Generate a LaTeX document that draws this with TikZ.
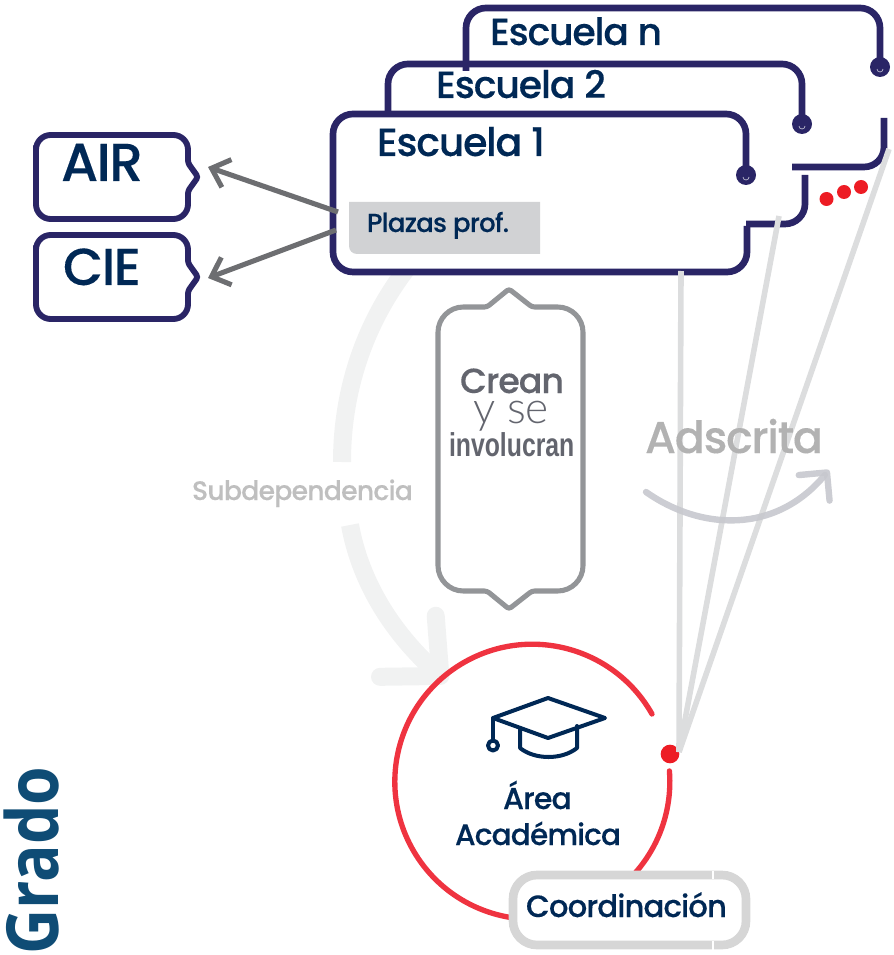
\documentclass[tikz,border=0pt]{standalone}
\usepackage{fontspec}
\usepackage{graphicx}
\usetikzlibrary{arrows.meta}
\setmainfont{Poppins}
\newfontfamily\medfont[FakeBold=0.2,LetterSpace=-3]{Poppins Medium}
\newfontfamily\lightfont{Lato Light}
\newfontfamily\condfont[FakeStretch=0.75,UprightFont=* Bold]{Liberation Sans}
\newfontfamily\gradofont[UprightFont=* Bold]{Open Sans}
\definecolor{navy}{HTML}{002855}
\definecolor{boxline}{HTML}{2A2566}
\definecolor{graytxt}{HTML}{63656E}
\definecolor{arrowgray}{HTML}{6D6E71}
\definecolor{creanline}{HTML}{939598}
\definecolor{plazagray}{HTML}{D1D2D4}
\definecolor{linegray}{HTML}{DCDDDE}
\definecolor{ascarrow}{HTML}{C7C8CE}
\definecolor{areared}{HTML}{EF3340}
\definecolor{dotred}{HTML}{ED1C24}
\definecolor{arcgray}{HTML}{F1F2F2}
\definecolor{gradoblue}{HTML}{0F4C75}
\newcommand{\fitw}[2]{\resizebox{#1}{!}{#2}}
\tikzset{
  x=0.75pt,y=-0.75pt,
  lbl/.style={anchor=base west,inner sep=0pt,outer sep=0pt,text=navy},
  schoolline/.style={draw=boxline,line width=5pt,rounded corners=15pt},
  schooldot/.style={circle,fill=boxline,minimum size=15pt,inner sep=0pt},
  sidebox/.style={draw=boxline,line width=4.4pt,fill=white},
  sidearrow/.style={draw=arrowgray,line width=3.8pt,-{Straight Barb[length=12pt,width=22pt]}},
  spoke/.style={draw=linegray,line width=4.2pt},
  reddot/.style={circle,fill=dotred,inner sep=0pt,minimum size=14pt},
  smalldot/.style={circle,fill=dotred,inner sep=0pt,minimum size=10.5pt},
}
\begin{document}
\begin{tikzpicture}
\useasboundingbox (0,0) rectangle (893,955);
% subdependence arc
\coordinate (sa) at (412,262);
\coordinate (sb) at (342,462);
\coordinate (sc) at (350,525);
\coordinate (sd) at (447,682);
\draw[draw=arcgray,line width=13.5pt] (sa) .. controls (365,320) and (342,390) .. (sb);
\draw[draw=arcgray,line width=13.5pt,-{Straight Barb[round,length=33pt,width=62pt]}] (sc) .. controls (360,580) and (390,630) .. (sd);
\node[lbl,text=black!25] (sub) at (192,500) {\fitw{165.7pt}{\medfont Subdependencia}};
% Escuela n
\coordinate (n1) at (466,71);
\coordinate (n2) at (880,67);
\draw[schoolline] (n1) -- (466,8) -- (880,8) -- (n2);
\draw[schoolline] (884,118) -- (884,167) -- (792,167);
\node[schooldot] (dn) at (880,67) {};
\draw[white!70!boxline,line width=.5pt] (877,69) arc[start angle=180,end angle=0,radius=3];
\node[lbl] (en) at (490,45) {\fitw{129pt}{\medfont Escuela n}};
% Escuela 2
\coordinate (t1) at (388,121);
\coordinate (t2) at (802,124);
\draw[schoolline] (t1) -- (388,64) -- (802,64) -- (t2);
\draw[schoolline] (805,175) -- (805,224) -- (736,224);
\node[schooldot] (dt) at (802,124) {};
\draw[white!70!boxline,line width=.5pt] (799,126) arc[start angle=180,end angle=0,radius=3];
\node[lbl] (et) at (436,98) {\fitw{127.5pt}{\medfont Escuela 2}};
% Escuela 1
\fill[white] (333,114) rectangle (746,272);
\coordinate (o1) at (746,175);
\coordinate (o2) at (747,226);
\draw[schoolline] (o1) -- (746,114) -- (333,114) -- (333,272) -- (747,272) -- (o2);
\node[schooldot] (do) at (746,175) {};
\draw[white!70!boxline,line width=.5pt] (743,177) arc[start angle=180,end angle=0,radius=3];
\node[lbl] (eo) at (377,156) {\fitw{126pt}{\medfont Escuela 1}};
% Plazas
\fill[plazagray] (349,202) -- (540,202) -- (540,254) -- (360,254) [rounded corners=6pt] -- (349,254) [rounded corners=0pt] -- cycle;
\node[lbl] (pl) at (367,232) {\fitw{106.5pt}{\medfont Plazas prof.}};
% dots
\node[smalldot] (r1) at (826.5,199) {};
\node[smalldot] (r2) at (844,192) {};
\node[smalldot] (r3) at (861,187) {};
% side boxes
\draw[sidebox] (36,160) [rounded corners=11pt] -- (36,135) -- (188,135) [rounded corners=2pt] -- (188,163) -- (198,177) -- (188,191) [rounded corners=11pt] -- (188,219) -- (36,219) -- cycle;
\draw[sidebox] (36,260) [rounded corners=11pt] -- (36,235) -- (188,235) [rounded corners=2pt] -- (188,263) -- (198,277) -- (188,291) [rounded corners=11pt] -- (188,319) -- (36,319) -- cycle;
\node[lbl] (air) at (61,181) {\fitw{61.5pt}{\medfont AIR}};
\node[lbl] (cie) at (63,285) {\fitw{58.5pt}{\medfont CIE}};
\coordinate (airtip) at (208,167);
\coordinate (cietip) at (208,278);
\coordinate (pa) at (338,212);
\coordinate (pc) at (336,230);
\draw[sidearrow] (pa) -- (airtip);
\draw[sidearrow] (pc) -- (cietip);
% Crean box
\draw[draw=creanline,line width=3.8pt] (438,400) [rounded corners=19pt] -- (438,307) [rounded corners=2pt] -- (487,307) -- (509,289) -- (532,307) [rounded corners=19pt] -- (583,307) -- (583,591) [rounded corners=2pt] -- (532,591) -- (509,609) -- (487,591) [rounded corners=19pt] -- (438,591) -- cycle;
\node[lbl,text=graytxt] (crean) at (460,393) {\fitw{78pt}{\medfont Crean}};
\node[lbl,text=graytxt] (yse) at (473,423) {\fitw{57pt}{\lightfont y se}};
\node[lbl,text=graytxt] (inv) at (449,456) {\fitw{94pt}{\condfont involucran}};
% lines
\node[reddot] (rd) at (670,754) {};
\coordinate (hub) at (679,752);
\coordinate (l1) at (681,271);
\coordinate (l2) at (779,216);
\coordinate (l3) at (889,149);
\draw[spoke] (l1) -- (hub);
\draw[spoke] (l2) -- (hub);
\draw[spoke] (l3) -- (hub);
% Adscrita
\node[lbl,text=black!30] (ads) at (645,453) {\fitw{133.5pt}{\medfont Adscrita}};
\coordinate (ad1) at (646,492);
\coordinate (ad2) at (829,470);
\draw[draw=ascarrow,opacity=.9,line width=4.8pt,line cap=round,-{Straight Barb[round,length=15pt,width=30pt]}] (ad1) .. controls (700,530) and (775,535) .. (ad2);
% red circle
\draw[draw=areared,line width=4pt,line cap=round] (652,714) arc[start angle=-29.5,delta angle=-335,radius=137.5];
% cap
\begin{scope}[draw=navy,line width=3pt,line join=round,line cap=round]
\draw (548,698) -- (605,718) -- (548,738) -- (493,718) -- cycle;
\draw (493,718) -- (493,740);
\draw (493,745.5) circle[radius=5];
\draw (520,728) -- (520,748) .. controls (535,760) and (562,760) .. (577,748) -- (577,726);
\end{scope}
\node[lbl] (area) at (503,809) {\fitw{51.7pt}{\medfont Área}};
\node[lbl] (acad) at (455,845) {\fitw{124.5pt}{\medfont Académica}};
% Coordinacion
\draw[draw=black!16,fill=white,line width=6.5pt,rounded corners=18pt] (600,875) -- (746,875) -- (746,945) -- (513,945) -- (513,875) -- cycle;
\draw[white,line width=1pt] (713,870.5) -- (713,879);
\draw[white,line width=1pt] (713,941) -- (713,949.5);
\node[lbl] (coo) at (526,917) {\fitw{150.7pt}{\medfont Coordinación}};
% Grado
\node[anchor=base west,inner sep=0pt,rotate=90,text=gradoblue] (gr) at (58,955) {\resizebox{141pt}{41pt}{\gradofont Grado}};
\end{tikzpicture}
\end{document}
